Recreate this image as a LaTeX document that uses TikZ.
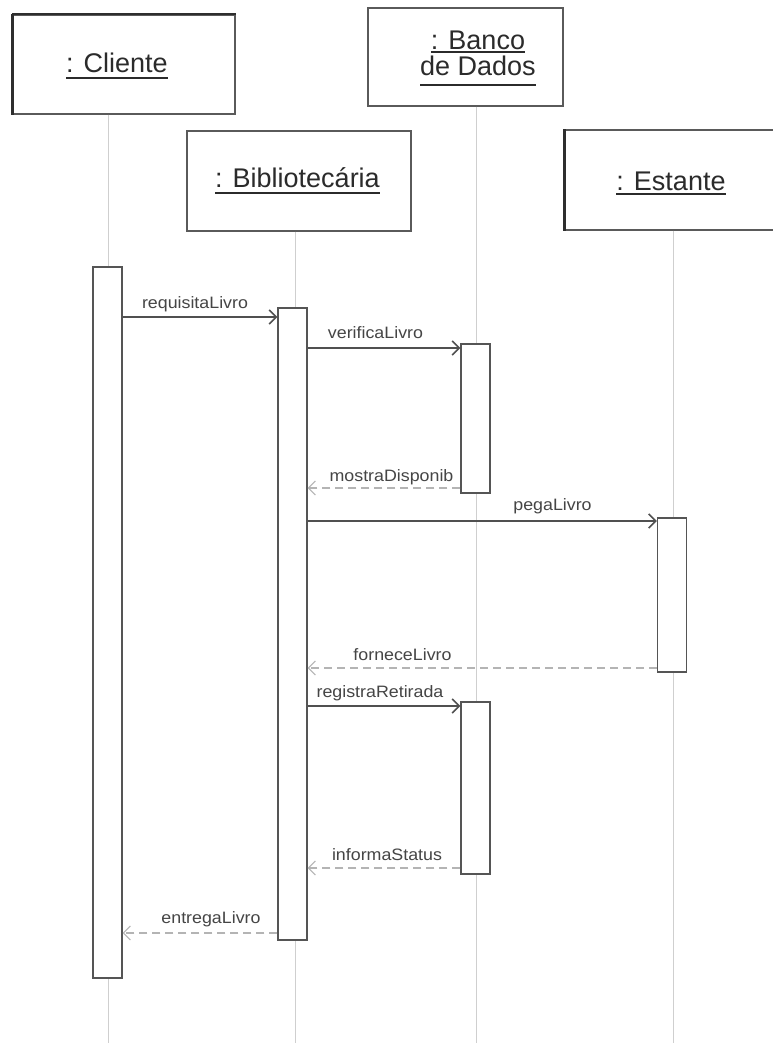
\documentclass[tikz,border=0pt]{standalone}
\usepackage{fontspec}
\setmainfont{Liberation Sans}
\newfontfamily\headfont{Liberation Sans}
\newfontfamily\msgfont[FakeStretch=1.08]{Liberation Sans}
\usetikzlibrary{arrows.meta}
\definecolor{ink}{HTML}{2B2B2B}
\definecolor{labelink}{HTML}{454545}
\definecolor{boxline}{HTML}{5A5A5A}
\definecolor{boxdark}{HTML}{2E2E2E}
\definecolor{barline}{HTML}{555555}
\definecolor{lifeline}{HTML}{CFCFCF}
\definecolor{callline}{HTML}{505050}
\definecolor{replyline}{HTML}{B4B4B4}
% underlined object name: #1 = drop of the rule below the baseline (pt)
\newcommand\objname[2][5]{\setbox0\hbox{#2}\rlap{\raisebox{-#1pt}{\color{ink}\rule{\wd0}{1.7pt}}}\box0}
\begin{document}
\begin{tikzpicture}[x=1pt,y=-1pt,
  headbox/.style={draw=boxline, line width=1.4pt, fill=white, inner sep=0pt},
  headtext/.style={font=\headfont\fontsize{27}{32}\selectfont, text=ink, inner sep=0pt, anchor=base},
  actbar/.style={draw=barline, line width=1.3pt, fill=white, minimum width=29pt, inner sep=0pt},
  life/.style={draw=lifeline, line width=1pt},
  call/.style={draw=callline, line width=1.6pt, -{Straight Barb[length=7pt,width=14pt]}},
  reply/.style={draw=replyline, line width=1.1pt, dash pattern=on 8pt off 5pt, -{Straight Barb[length=7pt,width=14pt]}},
  msglabel/.style={font=\msgfont\fontsize{16.5}{20}\selectfont, text=labelink, inner sep=0pt, anchor=base},
]
\useasboundingbox[fill=white] (0,0) rectangle (772,1043);

% object heads
\node[headbox, minimum width=222pt, minimum height=99pt] (cl) at (124,64.5) {};
\node[headbox, minimum width=195pt, minimum height=98pt] (bd) at (465.5,57) {};
\node[headbox, minimum width=224pt, minimum height=100pt] (bi) at (299,181) {};
\node[headbox, minimum width=211pt, minimum height=100pt] (es) at (670.5,180) {};
% heavier edges on the shaded heads
\draw[boxdark, line width=3pt] (cl.south west) -- (cl.north west);
\draw[boxdark, line width=2pt] (cl.north west) -- (cl.north east);
\draw[boxdark, line width=2.6pt] (es.south west) -- (es.north west);

\node[headtext] (clT) at (117,73) {\objname[6]{: Cliente}};
\node[headtext] (bdT1) at (478,50) {\objname[3]{: Banco}};
\node[headtext] (bdT2) at (478,76) {\objname[10]{de Dados}};
\node[headtext] (biT) at (297.5,188) {\objname[6]{: Bibliotecária}};
\node[headtext] (esT) at (671,190) {\objname[5]{: Estante}};

% lifelines
\coordinate (clEnd) at (108,1043);
\coordinate (bdEnd) at (476,1043);
\coordinate (biEnd) at (295,1043);
\coordinate (esEnd) at (673,1043);
\draw[life] (clEnd |- cl.south) -- (clEnd);
\draw[life] (bdEnd |- bd.south) -- (bdEnd);
\draw[life] (biEnd |- bi.south) -- (biEnd);
\draw[life] (esEnd |- es.south) -- (esEnd);

% activation bars
\node[actbar, minimum height=711pt] (clBar) at (107.5,622.5) {};
\node[actbar, minimum height=632pt] (biBar) at (292.5,624) {};
\node[actbar, minimum height=149pt] (bdBar1) at (475.5,418.5) {};
\node[actbar, minimum height=154pt] (esBar) at (672,595) {};
\node[actbar, minimum height=172pt] (bdBar2) at (475.5,788) {};

% message rows
\coordinate (m1) at (0,317);
\coordinate (m2) at (0,348);
\coordinate (m3) at (0,488);
\coordinate (m4) at (0,521);
\coordinate (m5) at (0,668);
\coordinate (m6) at (0,706);
\coordinate (m7) at (0,868);
\coordinate (m8) at (0,933);

\draw[call]  (clBar.east |- m1) -- (biBar.west |- m1);
\draw[call]  (biBar.east |- m2) -- (bdBar1.west |- m2);
\draw[reply] (bdBar1.west |- m3) -- (biBar.east |- m3);
\draw[call]  (biBar.east |- m4) -- (esBar.west |- m4);
\draw[reply] (esBar.west |- m5) -- (biBar.east |- m5);
\draw[call]  (biBar.east |- m6) -- (bdBar2.west |- m6);
\draw[reply] (bdBar2.west |- m7) -- (biBar.east |- m7);
\draw[reply] (biBar.west |- m8) -- (clBar.east |- m8);

\node[msglabel] (l1) at (195,308) {requisitaLivro};
\node[msglabel] (l2) at (375.5,338) {verificaLivro};
\node[msglabel] (l3) at (391.5,481) {mostraDisponib};
\node[msglabel] (l4) at (552.5,510) {pegaLivro};
\node[msglabel] (l5) at (402.5,660) {forneceLivro};
\node[msglabel] (l6) at (380,697) {registraRetirada};
\node[msglabel] (l7) at (387,860) {informaStatus};
\node[msglabel] (l8) at (211,923) {entregaLivro};
\end{tikzpicture}
\end{document}
